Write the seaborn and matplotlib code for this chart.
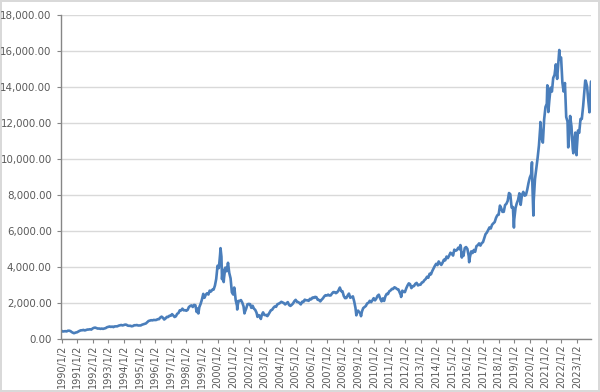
import numpy as np
import pandas as pd
import matplotlib
matplotlib.use("Agg")
import matplotlib.pyplot as plt
from matplotlib.ticker import FuncFormatter, MultipleLocator
import seaborn as sns

# ---- data (month-end levels, 1990-01 .. 2023-11) ----
monthly_values = [
    416, 425, 435, 420, 459, 462, 438, 381, 344, 329, 359, 374,          # 1990
    414, 453, 482, 485, 506, 475, 502, 525, 527, 542, 523, 586,          # 1991
    620, 633, 603, 578, 585, 563, 580, 563, 583, 605, 652, 677,          # 1992
    696, 671, 690, 661, 700, 704, 705, 742, 763, 779, 754, 777,          # 1993
    800, 793, 743, 733, 735, 706, 722, 765, 764, 777, 750, 752,          # 1994
    755, 793, 817, 843, 865, 933, 1001, 1020, 1044, 1036, 1059, 1052,    # 1995
    1060, 1100, 1101, 1191, 1243, 1185, 1081, 1141, 1227, 1222, 1293, 1291,  # 1996
    1380, 1310, 1222, 1261, 1400, 1442, 1594, 1587, 1686, 1594, 1601, 1570,  # 1997
    1619, 1771, 1835, 1868, 1779, 1895, 1873, 1499, 1694, 1771, 1950, 2193,  # 1998
    2506, 2288, 2461, 2543, 2471, 2686, 2638, 2739, 2746, 2966, 3336, 4069,  # 1999
    3940, 4697, 4573, 3861, 3401, 3966, 3767, 4206, 3673, 3370, 2598, 2471,  # 2000
    2773, 2152, 1840, 2116, 2110, 2161, 2027, 1805, 1499, 1690, 1931, 1950,  # 2001
    1934, 1731, 1845, 1688, 1616, 1463, 1328, 1315, 1172, 1330, 1479, 1336,  # 2002
    1321, 1338, 1341, 1464, 1596, 1623, 1735, 1810, 1787, 1932, 1960, 2003,  # 2003
    2066, 2030, 1994, 1920, 1987, 2048, 1887, 1838, 1897, 1975, 2097, 2175,  # 2004
    2062, 2052, 1999, 1922, 2068, 2057, 2185, 2152, 2152, 2120, 2233, 2205,  # 2005
    2306, 2281, 2340, 2323, 2179, 2172, 2091, 2184, 2258, 2367, 2432, 2415,  # 2006
    2464, 2416, 2422, 2525, 2605, 2603, 2546, 2596, 2701, 2859, 2661, 2652,  # 2007
    2389, 2271, 2279, 2413, 2523, 2293, 2326, 2368, 2092, 1721, 1536, 1577,  # 2008
    1476, 1378, 1529, 1717, 1774, 1835, 1979, 2009, 2122, 2045, 2145, 2269,  # 2009
    2147, 2238, 2398, 2461, 2257, 2109, 2255, 2114, 2369, 2507, 2498, 2653,  # 2010
    2700, 2782, 2781, 2873, 2835, 2774, 2756, 2579, 2415, 2684, 2620, 2605,  # 2011
    2814, 2967, 3092, 3046, 2827, 2935, 2940, 3067, 3116, 2977, 3010, 3020,  # 2012
    3142, 3160, 3268, 3329, 3456, 3403, 3626, 3590, 3771, 3920, 4060, 4177,  # 2013
    4104, 4308, 4199, 4115, 4243, 4408, 4370, 4580, 4493, 4631, 4792, 4736,  # 2014
    4635, 4964, 4901, 4941, 5070, 4987, 5128, 4777, 4620, 5054, 5109, 5007,  # 2015
    4614, 4558, 4870, 4775, 4948, 4843, 5162, 5213, 5312, 5189, 5324, 5383,  # 2016
    5615, 5825, 5912, 6048, 6199, 6140, 6348, 6429, 6496, 6728, 6874, 6903,  # 2017
    7411, 7273, 7063, 7066, 7442, 7510, 7672, 8110, 8046, 7306, 7331, 6635,  # 2018
    7282, 7533, 7729, 8095, 7453, 8006, 8175, 7963, 7999, 8292, 8665, 8973,  # 2019
    9151, 8567, 7700, 8890, 9490, 10059, 10745, 11775, 11168, 10912, 12199, 12888,  # 2020
    13071, 13192, 13247, 13962, 13749, 14504, 14673, 15259, 14449, 15498, 15538, 15645,  # 2021
    14240, 13751, 14221, 12335, 12081, 11029, 12391, 11816, 10576, 10988, 11468, 10466,  # 2022
    11585, 11456, 12222, 12227, 12935, 13788, 14346, 14035, 13219, 12851, 14226,  # 2023
]

# intra-month highs / lows visible on the chart
extreme_dates = [
    "1990-01-02", "1990-10-16", "1998-10-08", "2000-03-10", "2000-04-14",
    "2000-05-23", "2000-09-01", "2001-01-24", "2001-04-04", "2001-09-21",
    "2002-07-23", "2002-10-09", "2003-03-11", "2008-11-20", "2009-03-09",
    "2010-07-02", "2011-10-03", "2015-07-20", "2015-08-24", "2016-02-11",
    "2018-08-29", "2018-12-24", "2020-02-19", "2020-03-23", "2020-09-02",
    "2021-02-12", "2021-03-08", "2021-11-19", "2022-06-16", "2022-10-14",
    "2022-12-28", "2023-07-19", "2023-10-26", "2023-12-01",
]
extreme_values = [
    459, 325, 1419, 5048, 3321,
    3164, 4234, 2859, 1638, 1423,
    1229, 1114, 1272, 1316, 1268,
    2091, 2335, 5218, 4526, 4266,
    8109, 6193, 9817, 6860, 12056,
    14095, 12609, 16057, 10646, 10321,
    10213, 14358, 12595, 14305,
]

tick_years = list(range(1990, 2024))
tick_labels = [f"{y}/1/2" for y in tick_years]

# ---- build frame ----
monthly_dates = pd.date_range("1990-01-31", periods=len(monthly_values), freq="ME")
df = pd.concat([
    pd.DataFrame({"date": monthly_dates, "value": monthly_values}),
    pd.DataFrame({"date": pd.to_datetime(extreme_dates), "value": extreme_values}),
]).sort_values("date").reset_index(drop=True)

sns.set_theme(style="white")
plt.rcParams["font.family"] = ["DejaVu Sans"]

fig = plt.figure(figsize=(6.0, 3.92), dpi=100)
fig.patch.set_facecolor("white")
fig.patch.set_edgecolor("#d9d9d9")
fig.patch.set_linewidth(1.5)

ax = fig.add_axes([0.1025, 0.1352, 0.8825, 0.8265])
sns.lineplot(data=df, x="date", y="value", color="#4a7ebb", linewidth=1.9,
             ax=ax, estimator=None, sort=True)

ax.set_ylim(0, 18000)
ax.yaxis.set_major_locator(MultipleLocator(2000))
ax.yaxis.set_major_formatter(FuncFormatter(lambda v, p: f"{v:,.2f}"))
ax.set_xlim(pd.Timestamp("1990-01-02"), pd.Timestamp("2023-12-01"))
ax.set_xticks([pd.Timestamp(f"{y}-01-02") for y in tick_years])
ax.set_xticklabels(tick_labels, rotation=90)

ax.set_xlabel("")
ax.set_ylabel("")
ax.grid(axis="y", color="#d9d9d9", linewidth=1.0)
ax.grid(axis="x", visible=False)
ax.set_axisbelow(True)

for s in ["top", "right"]:
    ax.spines[s].set_visible(False)
for s in ["left", "bottom"]:
    ax.spines[s].set_color("#868686")
    ax.spines[s].set_linewidth(1.0)

ax.tick_params(axis="y", which="major", length=3, width=0.8, color="#868686",
               pad=4, labelsize=7.4, labelcolor="#595959", left=True)
ax.tick_params(axis="x", which="major", length=3, width=0.8, color="#868686",
               pad=1, labelsize=7.0, labelcolor="#595959", bottom=True)

fig.savefig("out.png", dpi=100, facecolor=fig.get_facecolor(),
            edgecolor=fig.get_edgecolor())
